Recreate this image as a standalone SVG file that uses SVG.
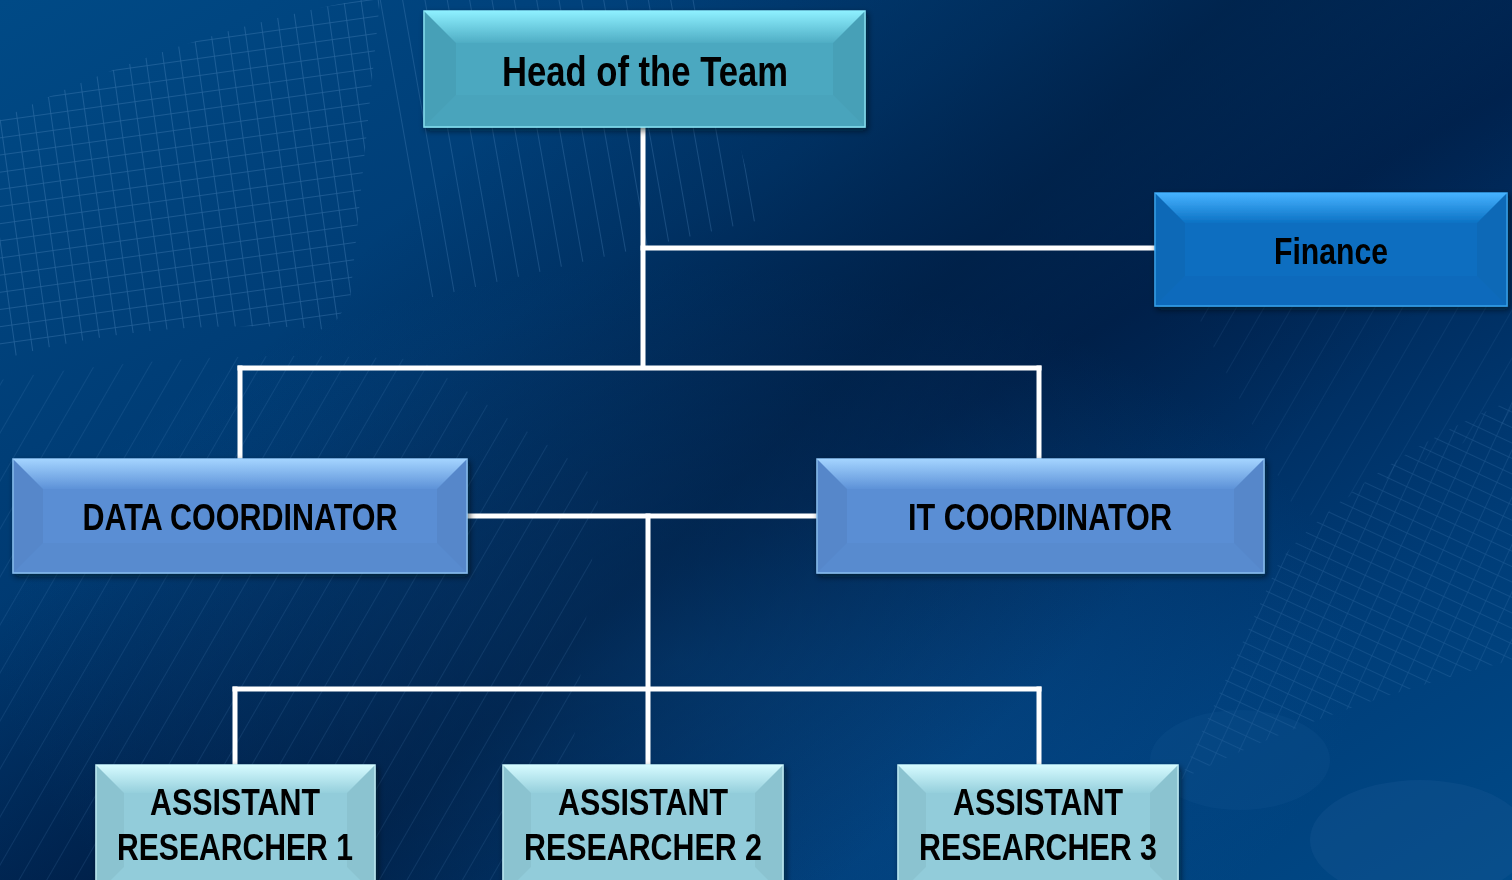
<svg xmlns="http://www.w3.org/2000/svg" width="1512" height="880" viewBox="0 0 1512 880">
<defs>
<linearGradient id="bg" x1="0" y1="0" x2="1" y2="1">
<stop offset="0" stop-color="#004a86"/>
<stop offset="0.35" stop-color="#003a72"/>
<stop offset="0.55" stop-color="#002452"/>
<stop offset="0.8" stop-color="#003d78"/>
<stop offset="1" stop-color="#004a88"/>
</linearGradient>
<radialGradient id="glow" cx="0.45" cy="0.75" r="0.45">
<stop offset="0" stop-color="#0a5aa0" stop-opacity="0.55"/>
<stop offset="1" stop-color="#0a5aa0" stop-opacity="0"/>
</radialGradient>
<linearGradient id="darkband" x1="0" y1="0" x2="1" y2="0.6">
<stop offset="0.3" stop-color="#001838" stop-opacity="0"/>
<stop offset="0.6" stop-color="#001838" stop-opacity="0.55"/>
<stop offset="0.85" stop-color="#001838" stop-opacity="0"/>
</linearGradient>
<pattern id="grid" width="17" height="17" patternUnits="userSpaceOnUse" patternTransform="rotate(-8)">
<path d="M0 0H17M0 0V17" fill="none" stroke="#5a92c8" stroke-width="1.6"/>
</pattern>
<pattern id="vlines" width="22" height="40" patternUnits="userSpaceOnUse" patternTransform="rotate(-10)">
<path d="M0 0V40" fill="none" stroke="#5a92c8" stroke-width="1.6"/>
</pattern>
<pattern id="dlines" width="24" height="40" patternUnits="userSpaceOnUse" patternTransform="rotate(30)">
<path d="M0 0V40" fill="none" stroke="#5a92c8" stroke-width="1.4"/>
</pattern>
<pattern id="grid2" width="20" height="14" patternUnits="userSpaceOnUse" patternTransform="rotate(25)">
<path d="M0 0H20M0 0V14" fill="none" stroke="#5a92c8" stroke-width="1.3"/>
</pattern>
<linearGradient id="topHead" x1="0" y1="0" x2="0" y2="1"><stop offset="0" stop-color="#8ef0ff"/><stop offset="1" stop-color="#4fadc4"/></linearGradient>
<linearGradient id="topFin" x1="0" y1="0" x2="0" y2="1"><stop offset="0" stop-color="#46b2ff"/><stop offset="1" stop-color="#0c72c4"/></linearGradient>
<linearGradient id="topCoord" x1="0" y1="0" x2="0" y2="1"><stop offset="0" stop-color="#a4d4ff"/><stop offset="1" stop-color="#5d92d8"/></linearGradient>
<linearGradient id="topAsst" x1="0" y1="0" x2="0" y2="1"><stop offset="0" stop-color="#d6fbff"/><stop offset="1" stop-color="#95cfdc"/></linearGradient>
<filter id="shadow" x="-5%" y="-10%" width="110%" height="130%">
<feDropShadow dx="2" dy="3" stdDeviation="3" flood-color="#000814" flood-opacity="0.6"/>
</filter>
<style>
.line{stroke:#ffffff;stroke-width:5;fill:none;stroke-linecap:square}
.lbl{font-family:"Liberation Sans Narrow","Liberation Sans",Arial,sans-serif;font-weight:bold;fill:#000000;text-anchor:middle}
.side{fill:#000000;fill-opacity:0.045}
.bot{fill:#000000;fill-opacity:0.02}
.head{fill:#4ba8c0;stroke:#8ae6f6;stroke-width:1.5}
.fin{fill:#0a6ec0;stroke:#3aa6f0;stroke-width:1.5}
.coord{fill:#5a8ed4;stroke:#8cc2f4;stroke-width:1.5}
.asst{fill:#92ccda;stroke:#c4f2fa;stroke-width:1.5}
</style>
</defs>

<g id="background">
<rect width="1512" height="880" fill="url(#bg)"/>
<rect width="1512" height="880" fill="url(#glow)"/>
<rect width="1512" height="880" fill="url(#darkband)"/>
<path d="M0 120 C120 60 250 20 360 0 L380 0 L350 300 L330 330 C220 320 100 330 0 360 Z" fill="url(#grid)" opacity="0.4"/>
<path d="M360 0 L700 0 L760 220 L420 300 Z" fill="url(#vlines)" opacity="0.35"/>
<path d="M0 380 C120 360 260 350 420 360 L600 480 L560 880 L0 880 Z" fill="url(#dlines)" opacity="0.22"/>
<path d="M1280 560 C1350 480 1440 430 1512 400 L1512 660 C1400 690 1300 720 1180 780 Z" fill="url(#grid2)" opacity="0.25"/>
<path d="M1190 300 L1512 300 L1512 420 L1300 520 Z" fill="url(#dlines)" opacity="0.15"/>
<ellipse cx="1420" cy="840" rx="110" ry="60" fill="#1a5a96" opacity="0.3"/>
<ellipse cx="1240" cy="760" rx="90" ry="50" fill="#1a5a96" opacity="0.2"/>
</g>

<g id="connectors">
<path class="line" d="M643 127 V366"/>
<path class="line" d="M643 248 H1155"/>
<path class="line" d="M240 368 H1039"/>
<path class="line" d="M240 368 V459"/>
<path class="line" d="M1039 368 V459"/>
<path class="line" d="M467 516 H817"/>
<path class="line" d="M648 516 V765"/>
<path class="line" d="M235 689 H1039"/>
<path class="line" d="M235 689 V765"/>
<path class="line" d="M1039 689 V765"/>
</g>

<g id="head" filter="url(#shadow)">
<rect class="head" x="424" y="11" width="441" height="116"/>
<polygon fill="url(#topHead)" points="424,11 865,11 833,43 456,43"/>
<polygon class="side" points="424,11 456,43 456,95 424,127"/>
<polygon class="side" points="865,11 865,127 833,95 833,43"/>
<polygon class="bot" points="424,127 456,95 833,95 865,127"/>
<text class="lbl" x="645" y="86" font-size="42" textLength="286" lengthAdjust="spacingAndGlyphs">Head of the Team</text>
</g>

<g id="finance" filter="url(#shadow)">
<rect class="fin" x="1155" y="193" width="352" height="113"/>
<polygon fill="url(#topFin)" points="1155,193 1507,193 1477,223 1185,223"/>
<polygon class="side" points="1155,193 1185,223 1185,276 1155,306"/>
<polygon class="side" points="1507,193 1507,306 1477,276 1477,223"/>
<polygon class="bot" points="1155,306 1185,276 1477,276 1507,306"/>
<text class="lbl" x="1331" y="264" font-size="37" textLength="114" lengthAdjust="spacingAndGlyphs">Finance</text>
</g>

<g id="data-coordinator" filter="url(#shadow)">
<rect class="coord" x="13" y="459" width="454" height="114"/>
<polygon fill="url(#topCoord)" points="13,459 467,459 437,489 43,489"/>
<polygon class="side" points="13,459 43,489 43,543 13,573"/>
<polygon class="side" points="467,459 467,573 437,543 437,489"/>
<polygon class="bot" points="13,573 43,543 437,543 467,573"/>
<text class="lbl" x="240" y="530" font-size="36" textLength="315" lengthAdjust="spacingAndGlyphs">DATA COORDINATOR</text>
</g>

<g id="it-coordinator" filter="url(#shadow)">
<rect class="coord" x="817" y="459" width="447" height="114"/>
<polygon fill="url(#topCoord)" points="817,459 1264,459 1234,489 847,489"/>
<polygon class="side" points="817,459 847,489 847,543 817,573"/>
<polygon class="side" points="1264,459 1264,573 1234,543 1234,489"/>
<polygon class="bot" points="817,573 847,543 1234,543 1264,573"/>
<text class="lbl" x="1040" y="530" font-size="36" textLength="264" lengthAdjust="spacingAndGlyphs">IT COORDINATOR</text>
</g>

<g id="assistant-researcher-1" filter="url(#shadow)">
<rect class="asst" x="96" y="765" width="279" height="130"/>
<polygon fill="url(#topAsst)" points="96,765 375,765 347,793 124,793"/>
<polygon class="side" points="96,765 124,793 124,867 96,895"/>
<polygon class="side" points="375,765 375,895 347,867 347,793"/>
<text class="lbl" x="235" y="815" font-size="36" textLength="170" lengthAdjust="spacingAndGlyphs">ASSISTANT</text>
<text class="lbl" x="235" y="860" font-size="36" textLength="236" lengthAdjust="spacingAndGlyphs">RESEARCHER 1</text>
</g>

<g id="assistant-researcher-2" filter="url(#shadow)">
<rect class="asst" x="503" y="765" width="280" height="130"/>
<polygon fill="url(#topAsst)" points="503,765 783,765 755,793 531,793"/>
<polygon class="side" points="503,765 531,793 531,867 503,895"/>
<polygon class="side" points="783,765 783,895 755,867 755,793"/>
<text class="lbl" x="643" y="815" font-size="36" textLength="170" lengthAdjust="spacingAndGlyphs">ASSISTANT</text>
<text class="lbl" x="643" y="860" font-size="36" textLength="238" lengthAdjust="spacingAndGlyphs">RESEARCHER 2</text>
</g>

<g id="assistant-researcher-3" filter="url(#shadow)">
<rect class="asst" x="898" y="765" width="280" height="130"/>
<polygon fill="url(#topAsst)" points="898,765 1178,765 1150,793 926,793"/>
<polygon class="side" points="898,765 926,793 926,867 898,895"/>
<polygon class="side" points="1178,765 1178,895 1150,867 1150,793"/>
<text class="lbl" x="1038" y="815" font-size="36" textLength="170" lengthAdjust="spacingAndGlyphs">ASSISTANT</text>
<text class="lbl" x="1038" y="860" font-size="36" textLength="238" lengthAdjust="spacingAndGlyphs">RESEARCHER 3</text>
</g>
</svg>
